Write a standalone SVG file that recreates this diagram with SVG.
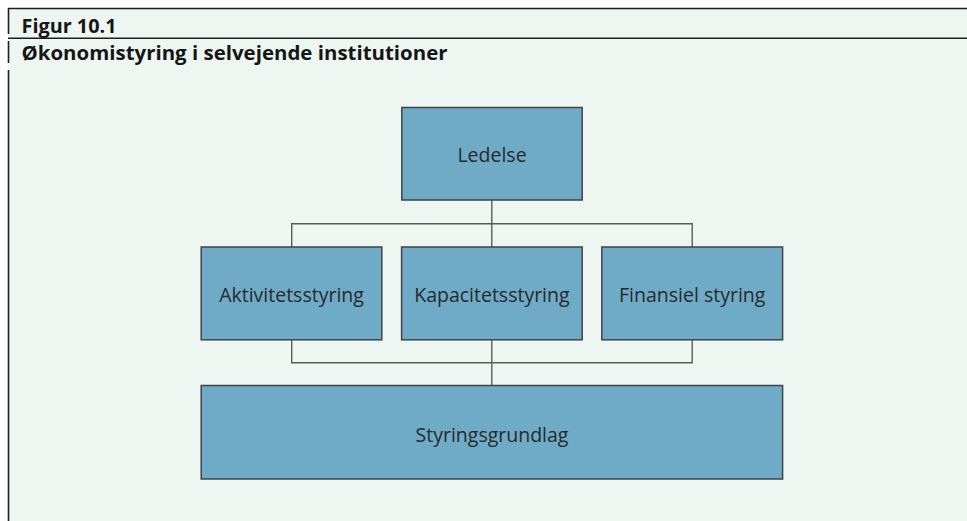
<svg xmlns="http://www.w3.org/2000/svg" width="967" height="521" viewBox="0 0 967 521">
  <style>
    .panel { fill: #eef6f2; }
    .rule { stroke: #1e1e1e; stroke-width: 1.6; fill: none; }
    .box { fill: #6faac6; stroke: #3f4448; stroke-width: 1.5; }
    .wire { stroke: #5a5a5a; stroke-width: 1.4; fill: none; }
    .head { font-family: "Open Sans", "Liberation Sans", sans-serif; font-weight: 700; font-size: 20.3px; fill: #161616; }
    .label { font-family: "Open Sans", "Liberation Sans", sans-serif; font-size: 19.5px; fill: #262a2c; text-anchor: middle; }
  </style>

  <!-- page + tinted figure panel -->
  <rect x="0" y="0" width="967" height="521" fill="#ffffff"/>
  <rect class="panel" x="8" y="8" width="959" height="513"/>

  <!-- header rules -->
  <line class="rule" x1="8" y1="8.5" x2="967" y2="8.5"/>
  <line class="rule" x1="8" y1="38.3" x2="967" y2="38.3"/>
  <line class="rule" x1="8.5" y1="8" x2="8.5" y2="34"/>
  <line class="rule" x1="8.5" y1="41" x2="8.5" y2="63"/>
  <line class="rule" x1="8.5" y1="70" x2="8.5" y2="521"/>

  <text class="head" x="21.5" y="32.5" textLength="95" lengthAdjust="spacingAndGlyphs">Figur 10.1</text>
  <text class="head" x="21.5" y="60" textLength="426" lengthAdjust="spacingAndGlyphs">Økonomistyring i selvejende institutioner</text>

  <!-- connectors -->
  <g id="connectors">
    <path class="wire" d="M491.8 200 V247 M291.7 247 V223.7 H692.2 V247"/>
    <path class="wire" d="M291.7 340 V362.7 H692.2 V340 M491.8 340 V385.5"/>
  </g>

  <g id="ledelse">
    <rect class="box" x="401.8" y="107.5" width="180.4" height="92.5"/>
    <text class="label" x="492" y="162">Ledelse</text>
  </g>

  <g id="aktivitetsstyring">
    <rect class="box" x="201.2" y="247" width="180.6" height="92.8"/>
    <text class="label" x="291.5" y="301.7">Aktivitetsstyring</text>
  </g>

  <g id="kapacitetsstyring">
    <rect class="box" x="401.6" y="247" width="180.6" height="92.8"/>
    <text class="label" x="491.9" y="301.7">Kapacitetsstyring</text>
  </g>

  <g id="finansiel-styring">
    <rect class="box" x="601.8" y="247" width="180.8" height="92.8"/>
    <text class="label" x="692.2" y="301.7">Finansiel styring</text>
  </g>

  <g id="styringsgrundlag">
    <rect class="box" x="201.2" y="385.5" width="581.4" height="93.5"/>
    <text class="label" x="492" y="441.7">Styringsgrundlag</text>
  </g>
</svg>
